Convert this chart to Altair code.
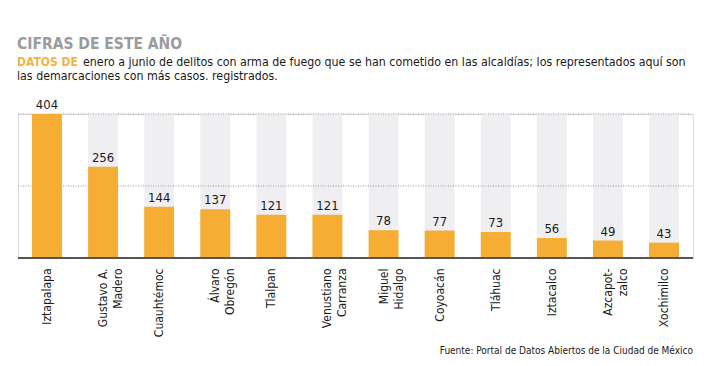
import altair as alt
import pandas as pd

categories = ["Iztapalapa", "Gustavo A.\nMadero", "Cuauhtémoc", "Álvaro\nObregón", "Tlalpan",
              "Venustiano\nCarranza", "Miguel\nHidalgo", "Coyoacán", "Tláhuac", "Iztacalco",
              "Azcapot-\nzalco", "Xochimilco"]
values = [404, 256, 144, 137, 121, 121, 78, 77, 73, 56, 49, 43]
grid_values = [202, 404]

FONT = "DejaVu Sans Condensed, sans-serif"

df = pd.DataFrame({"cat": categories, "val": values, "bg": [max(values)] * len(values)})

x = alt.X("cat:N", sort=None, title=None,
          scale=alt.Scale(paddingInner=0.467, paddingOuter=0.25),
          axis=alt.Axis(labelAngle=-90, labelAlign="right", labelBaseline="middle",
                        labelExpr="split(datum.label, '\\n')", labelLineHeight=15,
                        labelFont=FONT, labelFontSize=12, labelColor="#1a1a1a",
                        labelPadding=10, ticks=False, domain=False))
yscale = alt.Scale(domain=[0, 404], nice=False)

bg = alt.Chart(df).mark_bar(color="#efeff2").encode(
    x=x, y=alt.Y("bg:Q", scale=yscale, title=None, axis=None))

grid = alt.Chart(pd.DataFrame({"g": grid_values})).mark_rule(
    color="#999", strokeDash=[1, 1.5], strokeWidth=1).encode(
    y=alt.Y("g:Q", scale=yscale), x=alt.value(0), x2=alt.value(675))

bars = alt.Chart(df).mark_bar(color="#f5ad33").encode(
    x=x, y=alt.Y("val:Q", scale=yscale))

labels = alt.Chart(df).mark_text(dy=-9, font=FONT, fontSize=13, color="#1a1a1a").encode(
    x=x, y=alt.Y("val:Q", scale=yscale), text="val:Q")

base = alt.Chart(pd.DataFrame({"a": [0]})).mark_rule(color="#555", strokeWidth=2).encode(
    y=alt.value(144), x=alt.value(0), x2=alt.value(675))

t = pd.DataFrame({"a": [0]})
title = alt.Chart(t).mark_text(text="CIFRAS DE ESTE AÑO", font=FONT, fontSize=15.5, fontWeight="bold",
                               color="#9b9b9e", align="left", baseline="alphabetic").encode(
    x=alt.value(-1), y=alt.value(-65))
sub1a = alt.Chart(t).mark_text(text="DATOS DE", font=FONT, fontSize=12, fontWeight="bold",
                               color="#f0b445", align="left", baseline="alphabetic").encode(
    x=alt.value(-1), y=alt.value(-48))
sub1b = alt.Chart(t).mark_text(
    text="enero a junio de delitos con arma de fuego que se han cometido en las alcaldías; los representados aquí son",
    font=FONT, fontSize=12.3, color="#1a1a1a", align="left", baseline="alphabetic").encode(
    x=alt.value(65), y=alt.value(-48))
sub2 = alt.Chart(t).mark_text(text="las demarcaciones con más casos. registrados.", font=FONT, fontSize=12.3,
                              color="#1a1a1a", align="left", baseline="alphabetic").encode(
    x=alt.value(-1), y=alt.value(-34))
source = alt.Chart(t).mark_text(text="Fuente: Portal de Datos Abiertos de la Ciudad de México", font=FONT,
                                fontSize=10, color="#1a1a1a", align="right", baseline="alphabetic").encode(
    x=alt.value(675), y=alt.value(240))

chart = alt.layer(bg, grid, bars, labels, base, title, sub1a, sub1b, sub2, source).properties(
    width=675, height=144,
    autosize=alt.AutoSizeParams(type="none"),
    padding={"left": 10, "top": 106, "right": 16, "bottom": 100},
).configure_view(stroke=None).configure(background="white")

chart.save("out.html", embed_options={"renderer": "svg", "actions": False})
